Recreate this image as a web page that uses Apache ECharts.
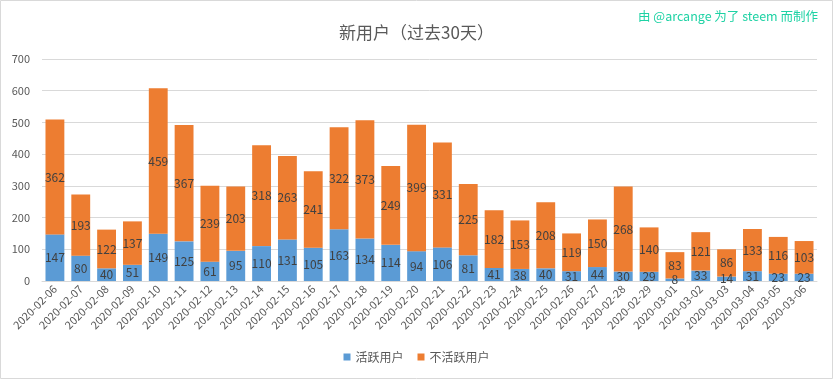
<!DOCTYPE html>
<html>
<head>
<meta charset="utf-8">
<script src="https://cdn.jsdelivr.net/npm/echarts@6/dist/echarts.min.js"></script>
<style>
html,body{margin:0;padding:0;background:#fff;}
#c{width:833px;height:379px;}
</style>
</head>
<body>
<div id="c"></div>
<script>
const categories = ['2020-02-06','2020-02-07','2020-02-08','2020-02-09','2020-02-10','2020-02-11','2020-02-12','2020-02-13','2020-02-14','2020-02-15','2020-02-16','2020-02-17','2020-02-18','2020-02-19','2020-02-20','2020-02-21','2020-02-22','2020-02-23','2020-02-24','2020-02-25','2020-02-26','2020-02-27','2020-02-28','2020-02-29','2020-03-01','2020-03-02','2020-03-03','2020-03-04','2020-03-05','2020-03-06'];
const activeUsers = [147,80,40,51,149,125,61,95,110,131,105,163,134,114,94,106,81,41,38,40,31,44,30,29,8,33,14,31,23,23];
const inactiveUsers = [362,193,122,137,459,367,239,203,318,263,241,322,373,249,399,331,225,182,153,208,119,150,268,140,83,121,86,133,116,103];
const seriesNames = ['活跃用户','不活跃用户'];

const FONT = '"Liberation Sans Narrow", "Noto Sans CJK SC", sans-serif';
const CJK = '"Noto Sans CJK SC", sans-serif';
const chart = echarts.init(document.getElementById('c'));
const labelStyle = {show:true, position:'inside', color:'#404040', fontSize:12, fontFamily:FONT};
chart.setOption({
  animation:false,
  textStyle:{fontFamily:FONT},
  title:{text:'新用户（过去30天）', left:'center', top:19, textStyle:{fontSize:17, fontWeight:'normal', color:'#595959', fontFamily:CJK}},
  graphic:[
    {type:'rect', shape:{x:0.5,y:0.5,width:832,height:378}, style:{fill:'none', stroke:'#d9d9d9', lineWidth:1}, silent:true},
    {type:'text', right:15, top:10, style:{text:'由 @arcange 为了 steem 而制作', fill:'#1ed2a4', fontSize:12.5, fontFamily:CJK}}
  ],
  legend:{bottom:11, left:'center', itemWidth:7, itemHeight:7, itemGap:14, icon:'rect',
    textStyle:{fontSize:12, color:'#595959', fontFamily:CJK}, data:seriesNames},
  grid:{left:42, right:16, top:59, bottom:98, containLabel:false},
  xAxis:{type:'category', data:categories,
    axisLine:{lineStyle:{color:'#d9d9d9'}}, axisTick:{show:false},
    axisLabel:{interval:0, rotate:45, fontSize:11, color:'#595959', margin:6, fontFamily:FONT}},
  yAxis:{type:'value', min:0, max:700, interval:100,
    axisLine:{show:false}, axisTick:{show:false},
    splitLine:{lineStyle:{color:'#d9d9d9'}},
    axisLabel:{fontSize:11, color:'#595959', margin:12, fontFamily:FONT}},
  series:[
    {name:seriesNames[0], type:'bar', stack:'s', data:activeUsers, barCategoryGap:'27%', itemStyle:{color:'#5b9bd5'}, label:labelStyle},
    {name:seriesNames[1], type:'bar', stack:'s', data:inactiveUsers, barCategoryGap:'27%', itemStyle:{color:'#ed7d31'}, label:labelStyle}
  ]
});
</script>
</body>
</html>
